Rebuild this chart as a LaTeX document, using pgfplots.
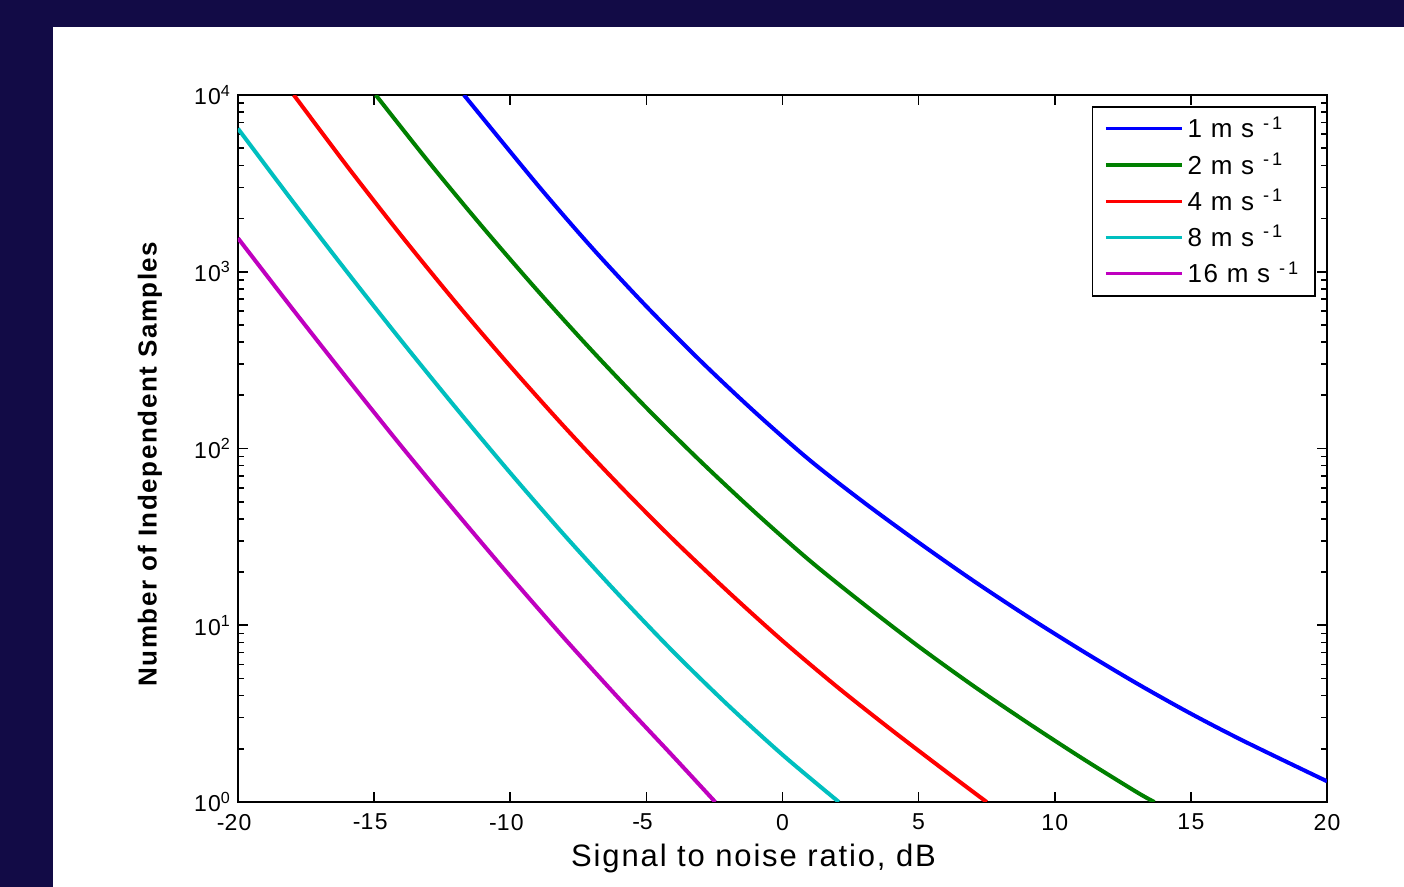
\documentclass[border=0pt]{standalone}
\usepackage{fontspec}
\setmainfont{Liberation Sans}
\newfontfamily\mfont[LetterSpace=6]{Liberation Sans}
\usepackage{pgfplots}
\pgfplotsset{compat=1.18}
\definecolor{frame}{RGB}{18,11,70}
\definecolor{mblue}{RGB}{0,0,255}
\definecolor{mgreen}{RGB}{0,128,0}
\definecolor{mred}{RGB}{255,0,0}
\definecolor{mcyan}{RGB}{0,191,191}
\definecolor{mmag}{RGB}{191,0,191}

% number of independent samples against SNR
\pgfplotstableread{
snr   n
-11.7 10000
-9    3105
-7    1368
-5    637
-3    312
-1    160
1     85.9
3     49.4
5     29.4
7     17.9
9     11.2
11    7.18
13    4.70
15    3.16
17    2.19
20    1.31
}\one
\pgfplotstableread{
snr    n
-14.94 10000
-13    4188
-11    1778
-9     783
-7     358
-5     170
-3     84.3
-1     43.4
1      23.2
3      13.1
5      7.59
7      4.55
9      2.81
11     1.77
13     1.14
13.66  1.0
}\two
\pgfplotstableread{
snr    n
-17.95 10000
-16    3972
-14    1600
-12    670
-10    292
-8     132
-6     62.1
-4     30.4
-2     15.5
0      8.17
2      4.49
4      2.56
6      1.49
7.5    1.0
}\four
\pgfplotstableread{
snr    n
-20    6457
-18    2512
-16    1000
-14    407
-12    170
-10    72.8
-8     32.2
-6     14.8
-4     7.05
-2     3.53
0      1.85
2.07   1.0
}\eight
\pgfplotstableread{
snr    n
-20    1549
-18    617
-16    250
-14    103
-12    43.7
-10    18.9
-8     8.39
-6     3.84
-4     1.80
-2.47  1.0
}\sixteen

\begin{document}
\begin{tikzpicture}
% slide frame and white panel
\fill[frame] (-119pt,-42.5pt) rectangle (583pt,401pt);
\fill[white] (-92.5pt,-42.5pt) rectangle (583pt,387.5pt);

\begin{axis}[
    at={(0pt,0pt)}, anchor=south west,
    scale only axis, width=544.5pt, height=353.5pt,
    xmin=-20, xmax=20, ymin=1, ymax=10000,
    ymode=log,
    xtick={-20,-15,...,20},
    xticklabels={\llap{-}20,\llap{-}15,\llap{-}10,\llap{-}5,0,5,10,15,20},
    ytick={1,10,100,1000,10000},
    yticklabels={10\textsuperscript{0},10\textsuperscript{1},10\textsuperscript{2},10\textsuperscript{3},10\textsuperscript{4}},
    tick align=inside,
    major tick length=5pt, minor tick length=3pt,
    tick style={black, line width=0.8pt},
    axis line style={black, line width=1pt},
    tick label style={font=\mfont\fontsize{11.5}{13}\selectfont},
    xticklabel style={yshift=-2.5pt},
    xlabel={Signal to noise ratio, dB},
    xlabel style={font=\mfont\fontsize{15.5}{18}\selectfont,
                  at={(axis description cs:0.4734,0)}, anchor=center, yshift=-28pt},
    ylabel={Number of Independent Samples},
    ylabel style={font=\mfont\bfseries\fontsize{13}{15}\selectfont,
                  at={(axis description cs:-0.081,0.478)}, anchor=center},
    legend style={at={(axis description cs:1,1)}, anchor=north east,
                  xshift=-5.5pt, yshift=-5.5pt,
                  draw=black, line width=0.75pt,
                  font=\mfont\fontsize{13}{15}\selectfont,
                  row sep=2pt, inner xsep=6pt, inner ysep=3pt},
    legend cell align=left,
    legend image code/.code={\draw[#1, line width=1.6pt] (0pt,0pt) -- (38pt,0pt);},
    every axis plot/.append style={line width=2pt, smooth, tension=0.5},
  ]
  \addplot[mblue]   table[x=snr, y=n] {\one};
  \addplot[mgreen]  table[x=snr, y=n] {\two};
  \addplot[mred]    table[x=snr, y=n] {\four};
  \addplot[mcyan]   table[x=snr, y=n] {\eight};
  \addplot[mmag]    table[x=snr, y=n] {\sixteen};
  \legend{1 m s \textsuperscript{-\,1}, 2 m s \textsuperscript{-\,1},
          4 m s \textsuperscript{-\,1}, 8 m s \textsuperscript{-\,1},
          16 m s \textsuperscript{-\,1}}
\end{axis}
\end{tikzpicture}
\end{document}
